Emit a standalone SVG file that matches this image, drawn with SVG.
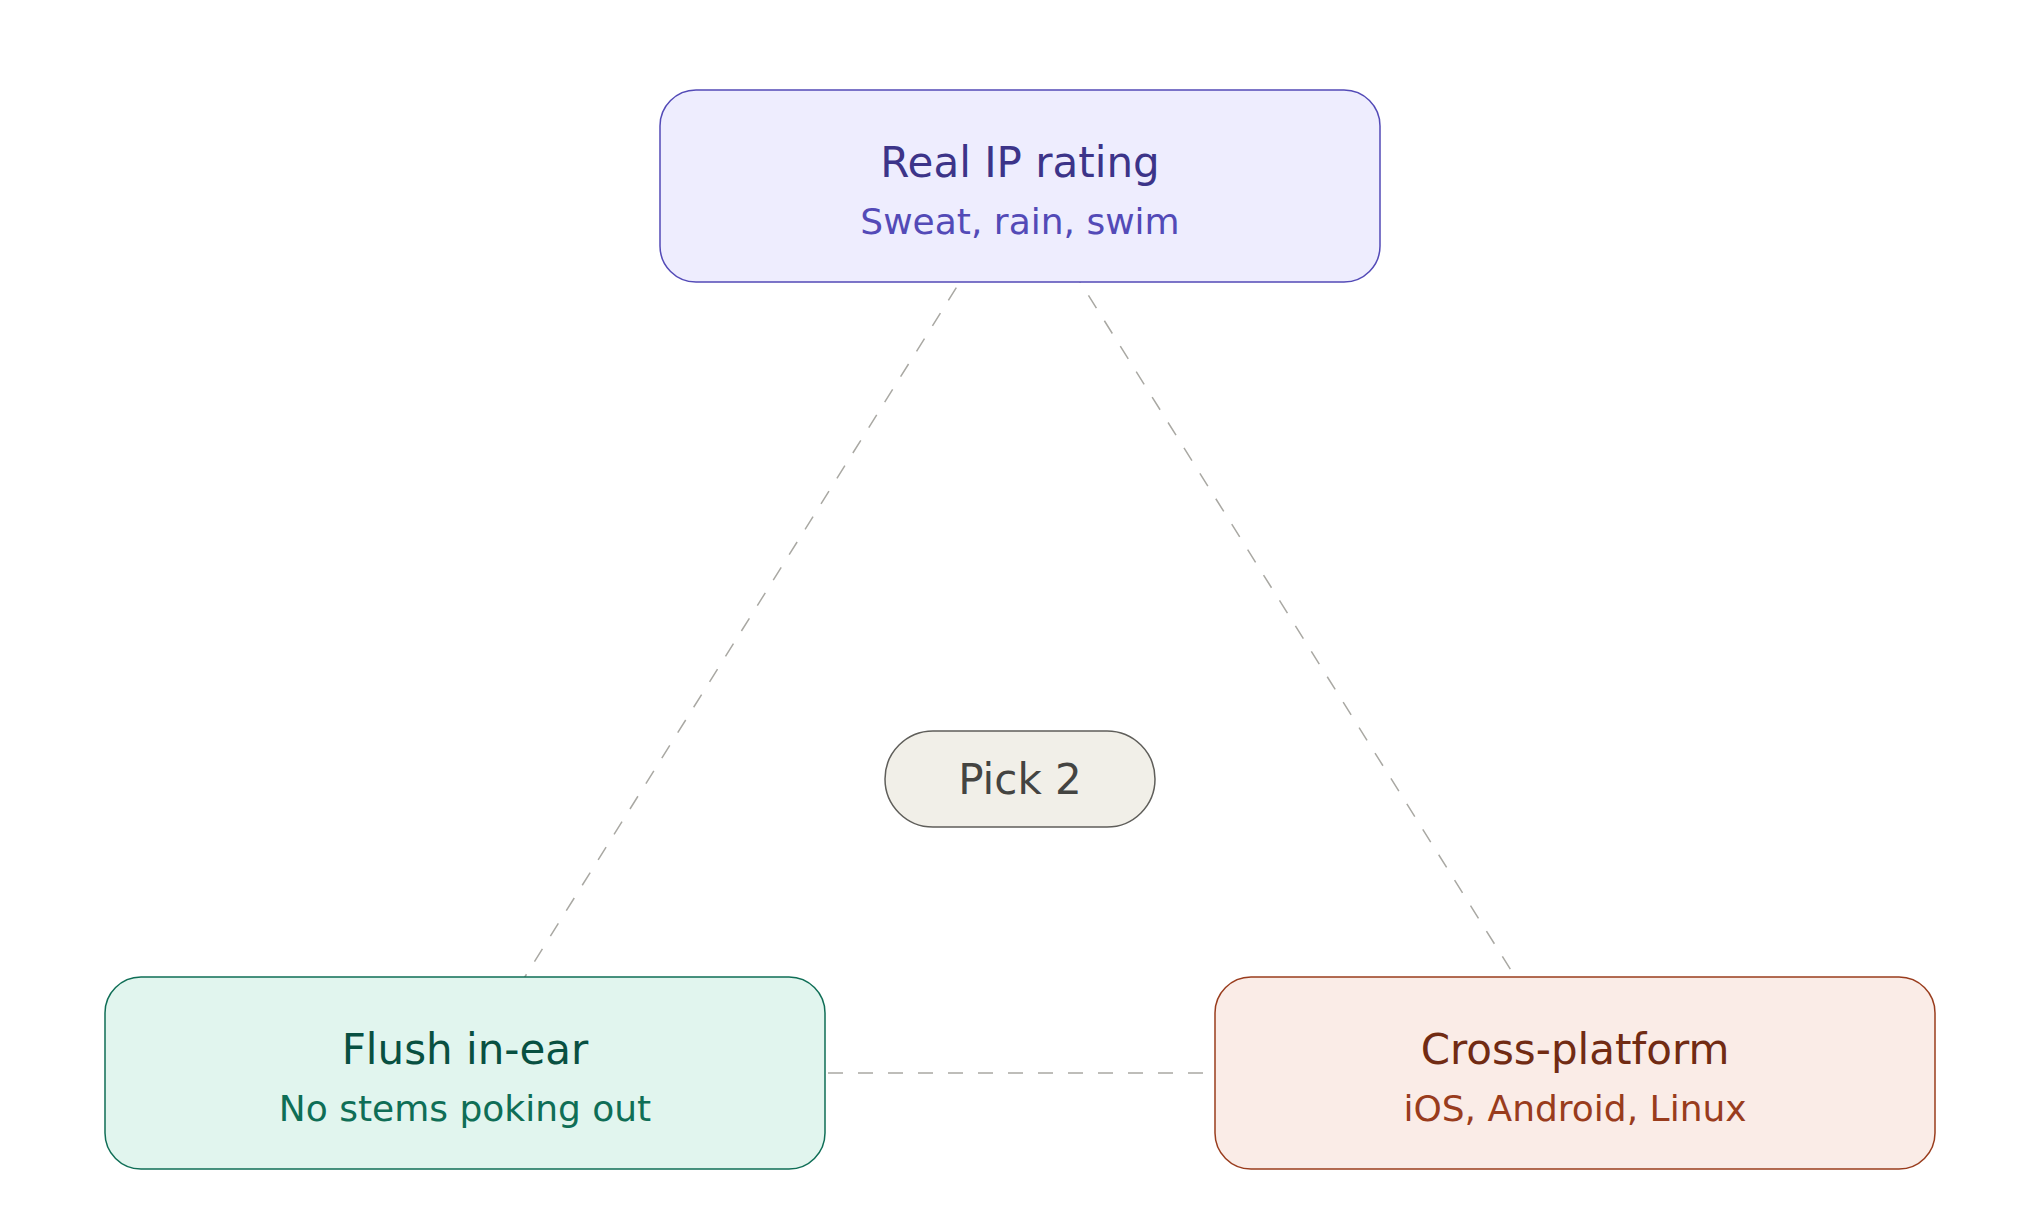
<svg xmlns="http://www.w3.org/2000/svg" width="2040" height="1230" viewBox="0 0 2040 1230">
  <style>
    text { font-family: "DejaVu Sans", Verdana, sans-serif; text-anchor: middle; }
    .title { font-size: 42px; }
    .sub { font-size: 36px; }
    .edge { stroke: #a9a8a3; stroke-width: 1.5; stroke-dasharray: 15 15; fill: none; }
    .node { stroke-width: 1.5; }
  </style>
  <rect width="2040" height="1230" fill="#ffffff"/>
  <g id="connectors">
    <line class="edge" x1="1020" y1="186" x2="465" y2="1072.5"/>
    <line class="edge" x1="1020" y1="186" x2="1575" y2="1072.5" stroke-dashoffset="-9"/>
    <line class="edge" x1="465" y1="1073" x2="1575" y2="1073" stroke-dashoffset="-3"/>
  </g>
  <g id="node-ip">
    <rect class="node" x="660" y="90" width="720" height="192" rx="36" fill="#EEEDFE" stroke="#534AB7"/>
    <text class="title" x="1020" y="177" fill="#3C3489">Real IP rating</text>
    <text class="sub" x="1020" y="234" fill="#534AB7">Sweat, rain, swim</text>
  </g>
  <g id="node-flush">
    <rect class="node" x="105" y="977" width="720" height="192" rx="36" fill="#E1F5EE" stroke="#0F6E56"/>
    <text class="title" x="465" y="1064" fill="#085041">Flush in-ear</text>
    <text class="sub" x="465" y="1121" fill="#0F6E56">No stems poking out</text>
  </g>
  <g id="node-cross">
    <rect class="node" x="1215" y="977" width="720" height="192" rx="36" fill="#FAECE7" stroke="#993C1D"/>
    <text class="title" x="1575" y="1064" fill="#712B13">Cross-platform</text>
    <text class="sub" x="1575" y="1121" fill="#993C1D">iOS, Android, Linux</text>
  </g>
  <g id="node-pick">
    <rect class="node" x="885" y="731" width="270" height="96" rx="48" fill="#F1EFE8" stroke="#5F5E5A"/>
    <text x="1020" y="794" font-size="42" fill="#444441">Pick 2</text>
  </g>
</svg>
